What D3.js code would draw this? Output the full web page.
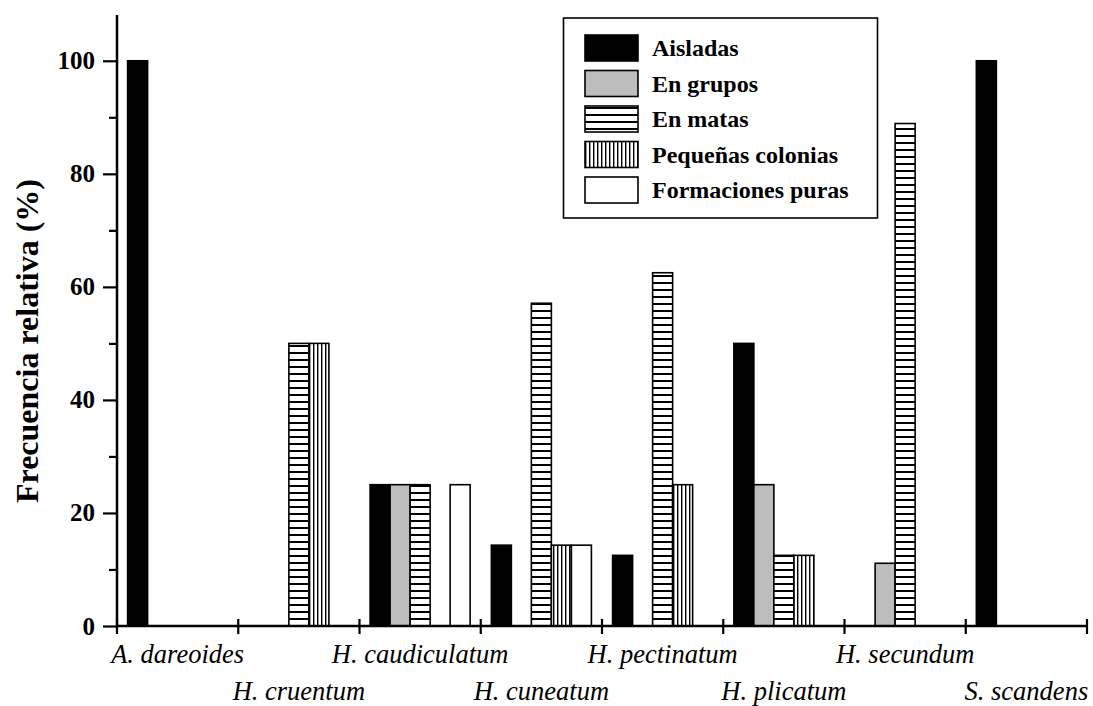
<!DOCTYPE html>
<html>
<head>
<meta charset="utf-8">
<script src="https://cdn.jsdelivr.net/npm/d3@7"></script>
<style>
  html, body { margin: 0; padding: 0; background: #fff; }
  svg { display: block; }
</style>
</head>
<body>
<svg id="chart" width="1093" height="706"></svg>
<script>
// ---- Data ----
const categories = ["A. dareoides", "H. cruentum", "H. caudiculatum", "H. cuneatum",
                    "H. pectinatum", "H. plicatum", "H. secundum", "S. scandens"];
const seriesNames = ["Aisladas", "En grupos", "En matas", "Pequeñas colonias", "Formaciones puras"];
const aisladas        = [100, 0, 25, 14.3, 12.5, 50, 0, 100];
const enGrupos        = [0, 0, 25, 0, 0, 25, 11.1, 0];
const enMatas         = [0, 50, 25, 57.1, 62.5, 12.5, 88.9, 0];
const pequenasColonias= [0, 50, 0, 14.3, 25, 12.5, 0, 0];
const formacionesPuras= [0, 0, 25, 14.3, 0, 0, 0, 0];
const yTicks = [0, 20, 40, 60, 80, 100];
const yMinorTicks = [10, 30, 50, 70, 90];

const seriesValues = [aisladas, enGrupos, enMatas, pequenasColonias, formacionesPuras];

// ---- Setup ----
const svg = d3.select("#chart");
const defs = svg.append("defs");
const serif = "'Liberation Serif', 'Times New Roman', serif";

// Patterns
const ph = defs.append("pattern").attr("id", "hstripe")
  .attr("patternUnits", "userSpaceOnUse").attr("width", 8).attr("height", 7);
ph.append("rect").attr("width", 8).attr("height", 7).attr("fill", "#fff");
ph.append("rect").attr("x", 0).attr("y", 2).attr("width", 8).attr("height", 2).attr("fill", "#000");

const pv = defs.append("pattern").attr("id", "vstripe")
  .attr("patternUnits", "userSpaceOnUse").attr("width", 4).attr("height", 8);
pv.append("rect").attr("width", 4).attr("height", 8).attr("fill", "#fff");
pv.append("rect").attr("x", 1).attr("y", 0).attr("width", 1.4).attr("height", 8).attr("fill", "#000");

const fills = ["#000", "#bdbdbd", "url(#hstripe)", "url(#vstripe)", "#fff"];

const x0 = d3.scaleBand().domain(categories).range([117, 1087]).paddingInner(0).paddingOuter(0);
const x1 = d3.scaleBand().domain(seriesNames).range([0, x0.bandwidth()]).paddingInner(0).paddingOuter(0.53);
const y = d3.scaleLinear().domain([0, 108.1]).range([626, 15]);

// ---- Bars ----
const bars = [];
categories.forEach((c, i) => {
  seriesNames.forEach((s, j) => {
    const v = seriesValues[j][i];
    if (v > 0) bars.push({ c, s, j, v });
  });
});

svg.append("g").selectAll("rect").data(bars).join("rect")
  .attr("x", d => x0(d.c) + x1(d.s))
  .attr("y", d => y(d.v))
  .attr("width", x1.bandwidth())
  .attr("height", d => y(0) - y(d.v))
  .attr("fill", d => fills[d.j])
  .attr("stroke", "#000")
  .attr("stroke-width", 1.6);

// ---- Y axis ----
const yAxisG = svg.append("g").attr("transform", "translate(117,0)")
  .call(d3.axisLeft(y).tickValues(yTicks).tickSize(14).tickPadding(8).tickFormat(d3.format("d")));
yAxisG.select(".domain").remove();
yAxisG.selectAll(".tick line").attr("stroke-width", 2.2);
yAxisG.selectAll(".tick text")
  .attr("font-family", serif)
  .attr("font-weight", "bold").attr("font-size", 25).attr("fill", "#000");

const yMinorG = svg.append("g").attr("transform", "translate(117,0)")
  .call(d3.axisLeft(y).tickValues(yMinorTicks).tickSize(8).tickFormat(""));
yMinorG.select(".domain").remove();
yMinorG.selectAll(".tick line").attr("stroke-width", 2.2);

svg.append("line").attr("x1", 117).attr("x2", 117).attr("y1", y(0) + 1).attr("y2", y(108.1))
  .attr("stroke", "#000").attr("stroke-width", 2.5);

// ---- X axis ----
svg.append("line").attr("x1", 116).attr("x2", 1088).attr("y1", y(0)).attr("y2", y(0))
  .attr("stroke", "#000").attr("stroke-width", 2.5);

const xTickPositions = categories.map(c => x0(c)).concat([x0.range()[1]]);
svg.append("g").selectAll("line").data(xTickPositions).join("line")
  .attr("x1", d => d).attr("x2", d => d)
  .attr("y1", y(0) - 7).attr("y2", y(0) + 8)
  .attr("stroke", "#000").attr("stroke-width", 2.2);

svg.append("g").selectAll("text").data(categories).join("text")
  .attr("x", d => x0(d) + x0.bandwidth() / 2)
  .attr("y", (d, i) => i % 2 === 0 ? 663 : 700)
  .attr("text-anchor", "middle")
  .attr("font-family", serif)
  .attr("font-style", "italic")
  .attr("font-size", 26.5)
  .attr("fill", "#000")
  .text(d => d);

// ---- Y title ----
svg.append("text")
  .attr("transform", "translate(38,341) rotate(-90)")
  .attr("text-anchor", "middle")
  .attr("font-family", serif)
  .attr("font-weight", "bold")
  .attr("font-size", 32)
  .attr("fill", "#000")
  .text("Frecuencia relativa (%)");

// ---- Legend ----
const lg = svg.append("g");
lg.append("rect").attr("x", 563.5).attr("y", 18).attr("width", 314).attr("height", 200)
  .attr("fill", "#fff").attr("stroke", "#000").attr("stroke-width", 1.6);
const legendRow = d3.scalePoint().domain(seriesNames).range([35, 177]);
const li = lg.selectAll("g.item").data(seriesNames).join("g").attr("class", "item");
li.append("rect")
  .attr("x", 585).attr("y", d => legendRow(d)).attr("width", 53).attr("height", 26)
  .attr("fill", (d, i) => fills[i]).attr("stroke", "#000").attr("stroke-width", 1.6);
li.append("text")
  .attr("x", 652).attr("y", d => legendRow(d) + 21)
  .attr("font-family", serif)
  .attr("font-weight", "bold").attr("font-size", 24).attr("fill", "#000")
  .text(d => d);
</script>
</body>
</html>
